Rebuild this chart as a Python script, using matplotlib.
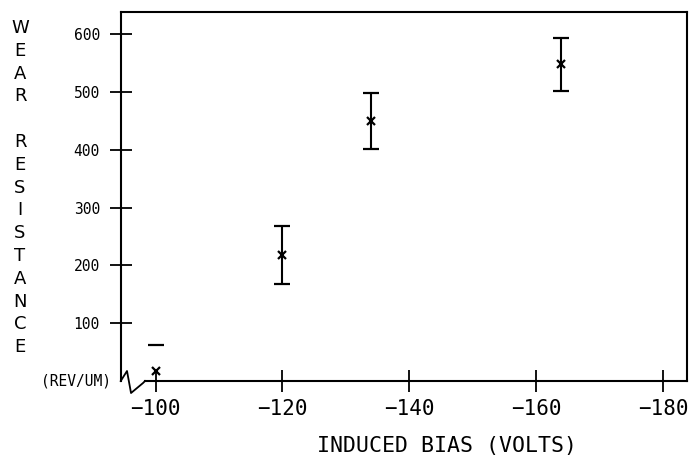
import matplotlib
matplotlib.use("Agg")
import matplotlib.pyplot as plt
from matplotlib.lines import Line2D

# Wear resistance vs. induced substrate bias
bias_volts = [-100, -120, -134, -164]
wear_resistance = [18, 218, 450, 548]
wear_error = [45, 50, 49, 46]

x_ticks = [-100, -120, -140, -160, -180]
x_tick_labels = ["\u2212100", "\u2212120", "\u2212140", "\u2212160", "\u2212180"]
y_ticks = [100, 200, 300, 400, 500, 600]
y_tick_labels = ["100", "200", "300", "400", "500", "600"]

y_title = "WEAR RESISTANCE"
y_units = "(REV/UM)"
x_title = "INDUCED BIAS (VOLTS)"

mono = "DejaVu Sans Mono"

fig = plt.figure(figsize=(6.93, 4.61), dpi=100)
ax = fig.add_axes([0.1742, 0.1735, 0.8172, 0.8011])

eb = ax.errorbar(bias_volts, wear_resistance, yerr=wear_error, fmt="x",
                 color="black", ms=6, mew=1.6, elinewidth=1.5,
                 capsize=6, capthick=1.5)
# the lowest point shows only its upper cap
eb[2][0].set_colors(["none", "black", "black", "black"])

ax.set_xlim(-94.5, -183.8)
ax.set_ylim(0, 639)

ax.set_xticks(x_ticks)
ax.set_xticklabels(x_tick_labels, fontsize=15, family=mono)
ax.set_yticks(y_ticks)
ax.set_yticklabels(y_tick_labels, fontsize=10.5, family=mono)

ax.tick_params(axis="both", direction="inout", length=16, width=1.3,
               color="black", top=False, right=False)
ax.tick_params(axis="y", pad=7)
ax.tick_params(axis="x", pad=5)

for side in ("top", "right", "left"):
    ax.spines[side].set_linewidth(1.5)
ax.spines["bottom"].set_visible(False)

# x axis line with a zig-zag break at the origin
ta = ax.transAxes
ax.add_line(Line2D([0.0429, 1.0], [0, 0], transform=ta, color="black",
                   lw=1.5, clip_on=False))
ax.add_line(Line2D([0.0, 0.0111, 0.0182, 0.0394, 0.0429],
                   [0.0, 0.0271, -0.0325, -0.0054, 0.0],
                   transform=ta, color="black", lw=1.3, clip_on=False))

# stacked vertical axis title
n = len(y_title)
top_px, step_px = 28.0, 22.8
H = 461.0
for i, ch in enumerate(y_title):
    if ch == " ":
        continue
    fig.text(20 / 693, 1 - (top_px + i * step_px) / H, ch,
             ha="center", va="center", fontsize=13, family="DejaVu Sans")

fig.text(111 / 693, 1 - 381 / H, y_units, ha="right", va="center",
         fontsize=10.5, family=mono)

fig.text(447 / 693, 1 - 446 / H, x_title, ha="center", va="center",
         fontsize=15.5, family=mono)

fig.savefig("out.png", dpi=100)
